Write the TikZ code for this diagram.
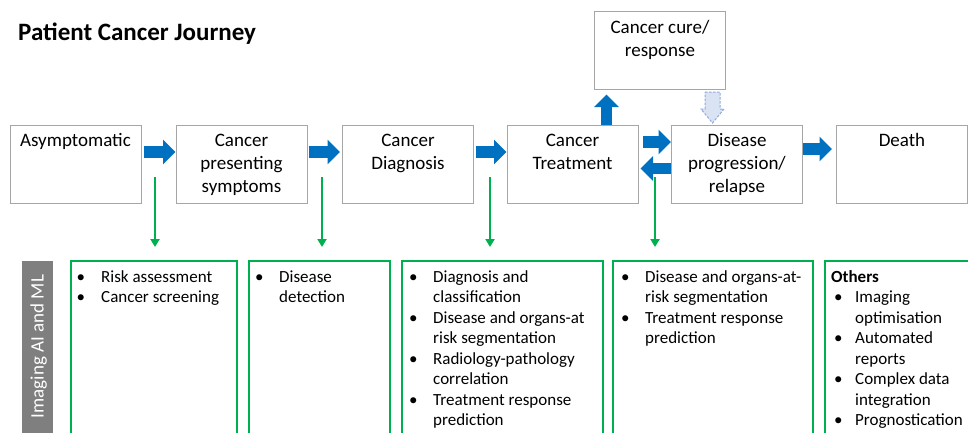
\documentclass[tikz,border=0pt]{standalone}
\usepackage{fontspec}
\setmainfont{Carlito}
\usetikzlibrary{arrows.meta,calc,positioning}
\definecolor{journeyblue}{HTML}{0070C0}
\definecolor{aigreen}{HTML}{00B050}
\definecolor{boxgray}{HTML}{A6A6A6}
\definecolor{bandgray}{HTML}{7F7F7F}
\definecolor{ghostblue}{HTML}{DAE3F3}
\definecolor{ghostedge}{HTML}{8FAADC}
\tikzset{
    stage/.style={
        rectangle,
        draw=boxgray,
        line width=1pt,
        minimum width=131pt,
        minimum height=78pt,
        inner sep=0pt
    },
    stagetext/.style={
        anchor=north,
        align=center,
        inner sep=0pt,
        font={\fontsize{19pt}{23pt}\selectfont}
    },
    aibox/.style={
        rectangle,
        draw=aigreen,
        line width=2pt,
        anchor=north west,
        minimum height=200pt,
        inner sep=0pt
    },
    aitext/.style={
        anchor=base west,
        inner sep=0pt,
        font={\fontsize{17pt}{20.5pt}\selectfont}
    },
    flow/.style={
        draw=journeyblue,
        line width=11.5pt,
        -{Triangle[width=24pt,length=12.5pt]}
    },
    aiflow/.style={
        draw=aigreen,
        line width=2pt,
        shorten >=13pt,
        -{Triangle[width=9pt,length=8pt]}
    },
    ghost/.style={
        draw=ghostedge,
        fill=ghostblue,
        line width=1pt,
        dash pattern=on 2.5pt off 1.5pt
    },
}

\begin{document}
\begin{tikzpicture}[x=1pt,y=-1pt]
\useasboundingbox (0,0) rectangle (968,432);
\clip (0,0) rectangle (968,432);

\node[anchor=base west, inner sep=0pt, font={\bfseries\fontsize{25pt}{30pt}\selectfont}] (title) at (18,40) {Patient Cancer Journey};

% journey stages
\node[stage] (asym) at (75.5,164) {};
\node[stage] (pres) at (241.5,164) {};
\node[stage] (diag) at (408,164) {};
\node[stage] (treat) at (572.5,164) {};
\node[stage] (relapse) at (737,164) {};
\node[stage] (death) at (902,164) {};
\node[stage] (cure) at (660,50) {};

\node[stagetext] (asymtext) at ($(asym.north)+(0,9)$) {Asymptomatic};
\node[stagetext] (prestext) at ($(pres.north)+(0,9)$) {Cancer\\presenting\\symptoms};
\node[stagetext] (diagtext) at ($(diag.north)+(0,9)$) {Cancer\\Diagnosis};
\node[stagetext] (treattext) at ($(treat.north)+(0,9)$) {Cancer\\Treatment};
\node[stagetext] (relapsetext) at ($(relapse.north)+(0,9)$) {Disease\\progression/\\relapse};
\node[stagetext] (deathtext) at ($(death.north)+(0,9)$) {Death};
\node[stagetext] (curetext) at ($(cure.north)+(0,10)$) {Cancer cure/\\response};

% block arrows
\draw[flow] ($(asym.east)+(2,-12)$) -- ($(pres.west)+(0,-12)$);
\draw[flow] ($(pres.east)+(1,-12)$) -- ($(diag.west)+(-2,-12)$);
\draw[flow] ($(diag.east)+(2,-12)$) -- ($(treat.west)+(0,-12)$);
\draw[flow] ($(treat.east)+(4,-22)$) -- ($(relapse.west)+(0,-22)$);
\draw[flow] ($(relapse.west)+(0,4.5)$) -- ($(treat.east)+(2,4.5)$);
\draw[flow] ($(relapse.east)+(0,-15)$) -- ($(death.west)+(-4,-15)$);
\draw[flow] ($(treat.north)+(34,0)$) -- ($(treat.north |- cure.south)+(34,5)$);
\draw[ghost] (705,92) -- (720,92) -- (720,109) -- (724,109) -- (712.5,123) -- (701,109) -- (705,109) -- cycle;

% imaging AI and ML
\fill[bandgray] (22,260.5) rectangle (52.5,440);
\node[rotate=90, anchor=base, inner sep=0pt, text=white, font={\fontsize{19pt}{23pt}\selectfont}] (bandlabel) at (43.5,346.5) {Imaging AI and ML};

\node[aibox, minimum width=166pt] (risk) at (70,260) {};
\node[aibox, minimum width=141pt] (detect) at (248,260) {};
\node[aibox, minimum width=201pt] (classify) at (401,260) {};
\node[aibox, minimum width=200pt] (respond) at (612,260) {};
\node[aibox, minimum width=170pt] (others) at (824,260) {};

\node[aitext] (risktext) at (76.5,282) {\begin{tabular}[t]{@{}p{24.5pt}@{}l@{}}
\textbullet & Risk assessment\\
\textbullet & Cancer screening
\end{tabular}};
\node[aitext] (detecttext) at (255,282) {\begin{tabular}[t]{@{}p{24pt}@{}l@{}}
\textbullet & Disease\\
 & detection
\end{tabular}};
\node[aitext] (classifytext) at (409,282) {\begin{tabular}[t]{@{}p{24pt}@{}l@{}}
\textbullet & Diagnosis and\\
 & classification\\
\textbullet & Disease and organs-at\\
 & risk segmentation\\
\textbullet & Radiology-pathology\\
 & correlation\\
\textbullet & Treatment response\\
 & prediction
\end{tabular}};
\node[aitext] (respondtext) at (621,282) {\begin{tabular}[t]{@{}p{24pt}@{}l@{}}
\textbullet & Disease and organs-at-\\
 & risk segmentation\\
\textbullet & Treatment response\\
 & prediction
\end{tabular}};
\node[aitext] (otherstext) at (831,282) {\begin{tabular}[t]{@{}p{24pt}@{}l@{}}
\multicolumn{2}{@{}l@{}}{\bfseries Others}\\
\hspace{3pt}\textbullet & Imaging\\
 & optimisation\\
\hspace{3pt}\textbullet & Automated\\
 & reports\\
\hspace{3pt}\textbullet & Complex data\\
 & integration\\
\hspace{3pt}\textbullet & Prognostication
\end{tabular}};

% green arrows
\coordinate (riskin) at (155,177);
\coordinate (detectin) at (322,177);
\coordinate (classifyin) at (490,177);
\coordinate (respondin) at (655,177);
\draw[aiflow] (riskin) -- (riskin |- risk.north);
\draw[aiflow] (detectin) -- (detectin |- detect.north);
\draw[aiflow] (classifyin) -- (classifyin |- classify.north);
\draw[aiflow] (respondin) -- (respondin |- respond.north);
\end{tikzpicture}
\end{document}
